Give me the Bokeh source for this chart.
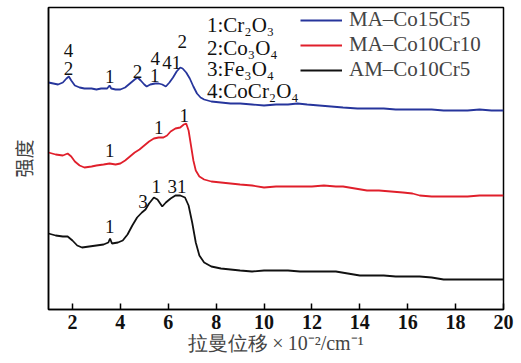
from bokeh.plotting import figure
from bokeh.models import Range1d, ColumnDataSource, Legend, LegendItem, FixedTicker
from bokeh.core.properties import value
from bokeh.embed import file_html
from bokeh.resources import INLINE

# ---- data (Raman shift x10^-2 cm^-1, arbitrary intensity) ----
blue_x = [1.0, 1.2, 1.4, 1.6, 1.75, 1.85, 1.95, 2.1, 2.3, 2.5, 2.8, 3.0, 3.2, 3.45, 3.55, 3.62,
          3.8, 4.0, 4.2, 4.4, 4.6, 4.72, 4.85, 5.0, 5.1, 5.25, 5.45, 5.6, 5.75, 5.9, 6.05, 6.2,
          6.35, 6.5, 6.6, 6.75, 6.9, 7.05, 7.2, 7.35, 7.5, 7.8, 8.2, 8.6, 9.0, 9.5, 10.0, 10.5,
          11.0, 11.4, 11.8, 12.3, 12.8, 13.3, 13.9, 14.5, 15.0, 15.5, 16.0, 16.5, 17.0, 17.5,
          18.0, 18.5, 19.0, 19.5, 20.0]
blue_y = [227, 226, 225, 227, 231, 233, 229, 224, 222, 221, 221, 220, 221, 221, 224, 221,
          220, 220, 222, 226, 230, 232, 229, 225, 223, 225, 226, 226, 225, 223, 227, 232,
          238, 242, 241, 237, 231, 223, 216, 212, 210, 208, 207, 206, 206, 205, 204, 205,
          205, 206, 205, 204, 203, 202, 201, 201, 201, 200, 200, 200, 200, 199,
          199, 199, 200, 199, 199]

red_x = [1.0, 1.3, 1.6, 1.8, 1.95, 2.1, 2.3, 2.5, 2.8, 3.0, 3.3, 3.55, 3.8, 4.0, 4.2, 4.4,
         4.6, 4.8, 5.0, 5.2, 5.4, 5.6, 5.8, 5.95, 6.1, 6.3, 6.5, 6.65, 6.75, 6.85, 6.95, 7.05,
         7.15, 7.3, 7.5, 7.8, 8.2, 8.6, 9.0, 9.5, 10.0, 10.5, 11.0, 11.5, 12.0, 12.5, 13.0,
         13.3, 13.8, 14.3, 14.8, 15.3, 15.8, 16.2, 16.5, 17.0, 17.5, 18.0, 18.5, 19.0, 19.5, 20.0]
red_y = [157, 155, 154, 156, 153, 148, 144, 142, 143, 144, 145, 146, 145, 146, 149, 153,
         157, 160, 164, 168, 171, 172, 172, 174, 178, 181, 182, 185, 186, 179, 164, 149,
         139, 133, 130, 128, 127, 126, 125, 124, 122, 123, 123, 123, 123, 124, 123,
         123, 121, 119, 119, 118, 117, 116, 114, 113, 113, 113, 113, 114, 114, 114]

black_x = [1.0, 1.3, 1.6, 1.8, 2.0, 2.2, 2.4, 2.7, 3.0, 3.3, 3.5, 3.57, 3.65, 3.9, 4.1, 4.3,
           4.5, 4.7, 4.9, 5.05, 5.2, 5.4, 5.55, 5.75, 5.9, 6.1, 6.3, 6.5, 6.7, 6.85, 7.0, 7.15,
           7.3, 7.5, 7.8, 8.2, 8.6, 9.0, 9.5, 10.0, 10.5, 11.0, 11.5, 12.0, 12.5, 13.0, 13.5,
           14.0, 14.5, 15.0, 15.5, 16.0, 16.5, 17.0, 17.5, 18.0, 18.5, 19.0, 19.5, 20.0]
black_y = [76, 74, 73, 73, 69, 64, 62, 63, 64, 65, 67, 71, 66, 67, 69, 75,
           84, 92, 97, 100, 106, 112, 110, 103, 107, 111, 114, 114, 112, 104, 87, 67,
           54, 47, 43, 41, 40, 39, 38, 39, 39, 39, 38, 38, 38, 38, 36,
           34, 34, 34, 33, 33, 33, 32, 30, 30, 30, 30, 30, 30]

series_names = ["MA\u2013Co15Cr5", "MA\u2013Co10Cr10", "AM\u2013Co10Cr5"]
series_colors = ["#26359c", "#e01f2b", "#111111"]

# peak labels
peak_x = [1.83, 1.83, 3.56, 4.72, 5.46, 5.44, 6.15, 6.58,
          3.56, 5.6, 6.67,
          3.56, 4.95, 5.5, 6.37]
peak_y = [259, 241, 233, 238, 251, 234, 247, 268,
          159, 182, 194,
          83, 108, 123, 123]
peak_t = ["4", "2", "1", "2", "4", "1", "41", "2",
          "1", "1", "1",
          "1", "3", "1", "31"]

# phase key
key_x = [7.62, 7.62, 7.62, 7.62]
key_y = [285, 262, 241, 219]
key_t = ["1:Cr\u2082O\u2083", "2:Co\u2083O\u2084", "3:Fe\u2083O\u2084", "4:CoCr\u2082O\u2084"]

x_ticks = [2, 4, 6, 8, 10, 12, 14, 16, 18, 20]

SERIF = "Liberation Serif"

p = figure(width=521, height=363, output_backend="svg", toolbar_location=None,
           x_range=Range1d(1, 20), y_range=Range1d(0, 302),
           min_border_left=48, min_border_right=18, min_border_top=7, min_border_bottom=54)
p.background_fill_color = "white"
p.border_fill_color = "white"
p.grid.visible = False
p.outline_line_color = "black"
p.outline_line_width = 1.5

renderers = []
for xs, ys, c in [(blue_x, blue_y, series_colors[0]), (red_x, red_y, series_colors[1]),
                  (black_x, black_y, series_colors[2])]:
    r = p.line(xs, ys, line_color=c, line_width=1.8)
    renderers.append(r)

src = ColumnDataSource(dict(x=peak_x, y=peak_y, t=peak_t))
p.text(x="x", y="y", text="t", source=src, text_font=value(SERIF), text_font_size="19px",
       text_align="center", text_baseline="middle", text_color="#111111")

ksrc = ColumnDataSource(dict(x=key_x, y=key_y, t=key_t))
p.text(x="x", y="y", text="t", source=ksrc, text_font=value(SERIF), text_font_size="21px",
       text_align="left", text_baseline="middle", text_color="#111111")

legend = Legend(items=[LegendItem(label=n, renderers=[r]) for n, r in zip(series_names, renderers)],
                location=(252, 227), margin=0, padding=3, spacing=0,
                glyph_width=42, glyph_height=24, label_height=24, label_standoff=7,
                label_text_font=SERIF, label_text_font_size="21px",
                background_fill_alpha=0, border_line_color=None)
p.add_layout(legend)

p.xaxis.ticker = FixedTicker(ticks=x_ticks)
p.xaxis.minor_tick_line_color = None
p.xaxis.major_tick_in = 6
p.xaxis.major_tick_out = 0
p.xaxis.major_tick_line_width = 1.5
p.xaxis.axis_line_width = 1.5
p.xaxis.major_label_text_font = SERIF
p.xaxis.major_label_text_font_style = "bold"
p.xaxis.major_label_text_font_size = "20px"
p.xaxis.major_label_text_color = "#111111"
p.xaxis.major_label_standoff = 5
p.xaxis.axis_label = "拉曼位移\u2009×\u200910\u207b\u00b2/cm\u207b\u00b9"
p.xaxis.axis_label_text_font = SERIF
p.xaxis.axis_label_text_font_style = "normal"
p.xaxis.axis_label_text_font_size = "20px"
p.xaxis.axis_label_standoff = 0

p.yaxis.ticker = FixedTicker(ticks=[])
p.yaxis.major_tick_line_color = None
p.yaxis.minor_tick_line_color = None
p.yaxis.axis_line_width = 1.5
p.yaxis.axis_label = "强度"
p.yaxis.axis_label_text_font = "Noto Sans CJK SC"
p.yaxis.axis_label_text_font_style = "normal"
p.yaxis.axis_label_text_font_size = "19px"
p.yaxis.axis_label_standoff = 12

open("out.html", "w").write(file_html(p, INLINE))
